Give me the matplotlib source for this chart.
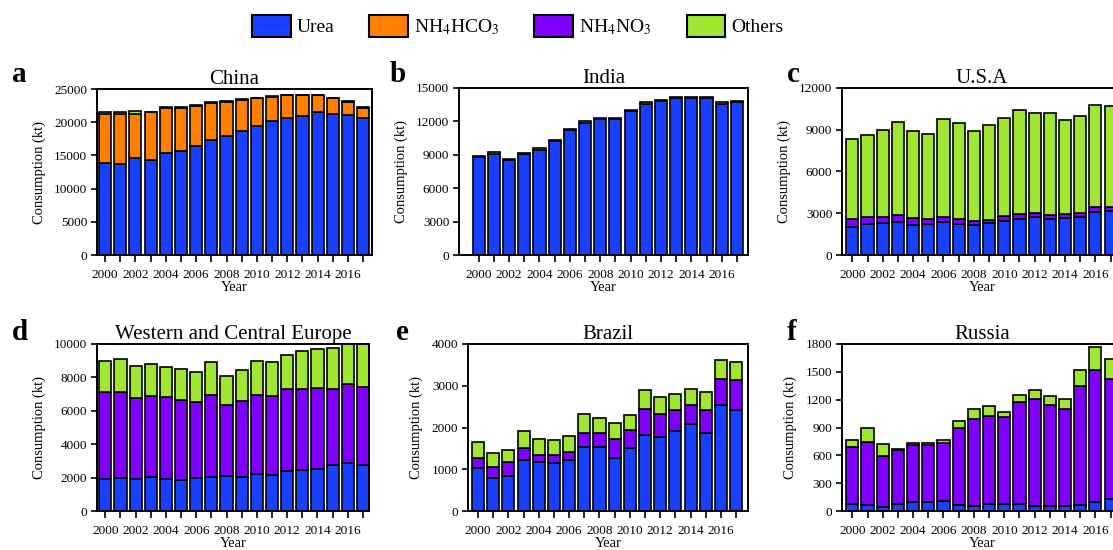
import numpy as np
import matplotlib
matplotlib.use("Agg")
import matplotlib.pyplot as plt
from matplotlib.patches import Patch
from matplotlib.ticker import MultipleLocator

plt.rcParams["font.family"] = ["Liberation Serif", "DejaVu Serif"]
plt.rcParams["mathtext.fontset"] = "stix"

years = list(range(2000, 2018))

series_names = ["Urea", "NH$_4$HCO$_3$", "NH$_4$NO$_3$", "Others"]
series_colors = ["#1a40ff", "#ff8000", "#8000ff", "#a0e632"]

# Consumption by fertilizer type (kt), 2000-2017
china_urea = [13800, 13700, 14600, 14300, 15400, 15700, 16400, 17350, 17950,
              18650, 19400, 20200, 20600, 21000, 21600, 21300, 21100, 20600]
china_nh4hco3 = [7400, 7600, 6700, 7200, 6700, 6500, 6100, 5550, 5100,
                 4700, 4200, 3650, 3500, 3050, 2450, 2300, 2000, 1600]
china_nh4no3 = [0] * 18
china_others = [350, 300, 350, 100, 120, 150, 150, 120, 80,
                80, 80, 80, 60, 60, 60, 60, 50, 50]

india_urea = [8800, 9100, 8500, 9050, 9470, 10250, 11200, 11900, 12200,
              12200, 12900, 13600, 13800, 14070, 14070, 14070, 13600, 13750]
india_nh4hco3 = [0] * 18
india_nh4no3 = [0] * 18
india_others = [130, 150, 110, 120, 130, 120, 120, 120, 120,
                120, 140, 120, 120, 110, 110, 110, 100, 120]

usa_urea = [2040, 2200, 2280, 2350, 2160, 2210, 2350, 2230, 2140,
            2280, 2470, 2620, 2740, 2620, 2660, 2710, 3120, 3190]
usa_nh4hco3 = [0] * 18
usa_nh4no3 = [530, 510, 480, 510, 500, 360, 360, 360, 280,
              260, 310, 310, 310, 280, 320, 310, 310, 240]
usa_others = [5760, 5890, 6190, 6720, 6220, 6140, 7030, 6890, 6460,
              6770, 7060, 7460, 7150, 7300, 6690, 6940, 7350, 7300]

europe_urea = [1920, 1980, 1920, 2020, 1920, 1860, 1960, 2060, 2080,
               2020, 2220, 2140, 2380, 2460, 2520, 2750, 2850, 2750]
europe_nh4hco3 = [0] * 18
europe_nh4no3 = [5210, 5150, 4850, 4870, 4910, 4790, 4570, 4910, 4290,
                 4580, 4710, 4750, 4920, 4840, 4850, 4580, 4730, 4700]
europe_others = [1870, 1950, 1930, 1910, 1810, 1850, 1810, 1930, 1690,
                 1820, 2070, 2030, 2040, 2300, 2330, 2450, 2420, 2550]

brazil_urea = [1030, 790, 850, 1230, 1170, 1150, 1210, 1530, 1530,
               1280, 1500, 1830, 1770, 1920, 2090, 1880, 2550, 2430]
brazil_nh4hco3 = [0] * 18
brazil_nh4no3 = [230, 260, 330, 270, 180, 200, 210, 350, 350,
                 440, 440, 620, 560, 500, 450, 550, 620, 700]
brazil_others = [390, 330, 290, 420, 370, 340, 380, 440, 350,
                 380, 370, 460, 410, 380, 390, 420, 440, 430]

russia_urea = [75, 68, 47, 75, 97, 100, 107, 68, 50,
               72, 79, 72, 57, 54, 54, 64, 97, 125]
russia_nh4hco3 = [0] * 18
russia_nh4no3 = [619, 677, 547, 584, 612, 612, 630, 823, 945,
                 952, 930, 1098, 1153, 1084, 1045, 1278, 1428, 1303]
russia_others = [72, 146, 125, 14, 21, 25, 29, 79, 100,
                 107, 54, 79, 93, 100, 104, 183, 243, 211]

panels = [
    # letter, title, data, ymax, ystep, axes rect (px: left, top, width, height), xlim
    ("a", "China", [china_urea, china_nh4hco3, china_nh4no3, china_others],
     25000, 5000, (97, 89, 275, 166), (1999.47, 2017.58)),
    ("b", "India", [india_urea, india_nh4hco3, india_nh4no3, india_others],
     15000, 3000, (459, 88, 289, 167), (1998.7, 2017.73)),
    ("c", "U.S.A", [usa_urea, usa_nh4hco3, usa_nh4no3, usa_others],
     12000, 3000, (842, 88, 280, 167), (1999.32, 2017.75)),
    ("d", "Western and Central Europe",
     [europe_urea, europe_nh4hco3, europe_nh4no3, europe_others],
     10000, 2000, (97, 344, 272, 167), (1999.45, 2017.4)),
    ("e", "Brazil", [brazil_urea, brazil_nh4hco3, brazil_nh4no3, brazil_others],
     4000, 1000, (468, 344, 280, 167), (1999.34, 2017.78)),
    ("f", "Russia", [russia_urea, russia_nh4hco3, russia_nh4no3, russia_others],
     1800, 300, (842, 344, 280, 167), (1999.32, 2017.75)),
]

W, H = 1113, 550
fig = plt.figure(figsize=(W / 100, H / 100), dpi=100)

letter_pos = {"a": (12, 82), "b": (390, 82), "c": (787, 82),
              "d": (12, 340), "e": (396, 340), "f": (787, 340)}

for letter, title, data, ymax, ystep, (l, t, w, h), xlim in panels:
    ax = fig.add_axes([l / W, 1 - (t + h) / H, w / W, h / H])
    bottom = np.zeros(len(years))
    for vals, color in zip(data, series_colors):
        vals = np.asarray(vals, dtype=float)
        if vals.sum() == 0:
            continue
        ax.bar(years, vals, bottom=bottom, width=0.8, color=color,
               edgecolor="black", linewidth=1.2, zorder=2)
        bottom += vals
    ax.set_xlim(*xlim)
    ax.set_ylim(0, ymax)
    ax.yaxis.set_major_locator(MultipleLocator(ystep))
    ax.set_xticks(range(2000, 2018, 2))
    ax.set_xticks(range(2001, 2018, 2), minor=True)
    ax.tick_params(axis="y", which="major", direction="out", length=4,
                   width=1.2, labelsize=9.5, pad=3)
    ax.tick_params(axis="x", which="both", direction="out", length=5,
                   width=1.2, labelsize=9.5, pad=5)
    for sp in ax.spines.values():
        sp.set_linewidth(1.4)
    ax.set_title(title, fontsize=15, pad=3)
    ax.set_xlabel("Year", fontsize=10.5, labelpad=0)
    ax.set_ylabel("Consumption (kt)", fontsize=10.5, labelpad=6)
    lx, ly = letter_pos[letter]
    fig.text(lx / W, 1 - ly / H, letter, fontsize=21, fontweight="bold",
             ha="left", va="baseline")

handles = [Patch(facecolor=c, edgecolor="black", linewidth=1.5)
           for c in series_colors]
fig.legend(handles, series_names, loc="center", bbox_to_anchor=(0.465, 0.953),
           ncol=4, frameon=False, fontsize=14, handlelength=2.0,
           handleheight=1.4, handletextpad=0.3, columnspacing=1.8)

fig.savefig("out.png", dpi=100)
